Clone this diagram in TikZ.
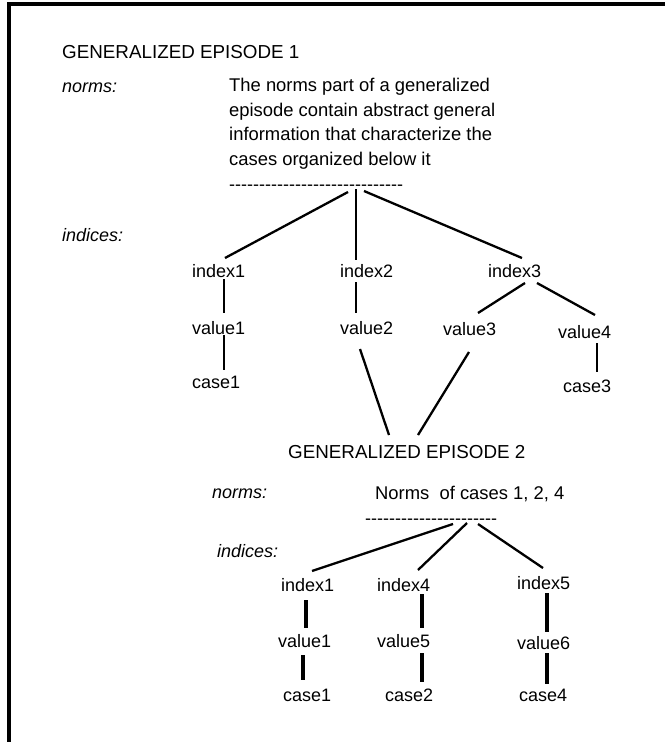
\documentclass[tikz,border=0pt]{standalone}
\usepackage{fontspec}
\newfontfamily\arial{Liberation Sans}
\begin{document}
\begin{tikzpicture}[x=1pt,y=-1pt,
  lbl/.style={font=\arial\fontsize{18}{24.7}\selectfont, inner sep=0pt, anchor=base west},
  prose/.style={lbl, font=\arial\fontsize{18.4}{24.7}\selectfont},
  head/.style={lbl, font=\arial\fontsize{18.8}{24.7}\selectfont},
  tag/.style={lbl, font=\arial\itshape\fontsize{18}{24.7}\selectfont},
  link/.style={line width=2.3pt},
  bar/.style={line width=3.1pt},
]
\useasboundingbox (0,0) rectangle (669,742);
% page frame (top and left edges)
\draw[line width=3.5pt] (9,742) -- (9,4) -- (665,4);

% ---------- generalized episode 1 ----------
\node[head] (ge1) at (62,58.5) {GENERALIZED EPISODE 1};
\node[tag] (nl1) at (62,92) {norms:};
\node[prose, anchor=north west, align=left] (nt1) at (229,78)
  {The norms part of a generalized\\episode contain abstract general\\information that characterize the\\cases organized below it};
\node[lbl] (dl1) at (229,190) {-----------------------------};
\node[tag] (il1) at (62,241) {indices:};

\node[lbl] (i1) at (192,277) {index1};
\node[lbl] (i2) at (340,277) {index2};
\node[lbl] (i3) at (488,277) {index3};
\node[lbl] (v1) at (192,334) {value1};
\node[lbl] (v2) at (340,334) {value2};
\node[lbl] (v3) at (443,335) {value3};
\node[lbl] (v4) at (558,338) {value4};
\node[lbl] (c1) at (192,388) {case1};
\node[lbl] (c3) at (563,392) {case3};

\draw[link] ([shift={(119,2)}]dl1.base west) -- ([shift={(33,-19)}]i1.base west);
\draw[link] ([shift={(127,-1)}]dl1.base west) -- ([shift={(16,-17)}]i2.base west);
\draw[link] ([shift={(135,1)}]dl1.base west) -- ([shift={(34,-19)}]i3.base west);
\draw[link] ([shift={(32,2)}]i1.base west) -- ([shift={(32,-21)}]v1.base west);
\draw[link] ([shift={(32,1)}]v1.base west) -- ([shift={(32,-18)}]c1.base west);
\draw[link] ([shift={(16,5)}]i2.base west) -- ([shift={(16,-21)}]v2.base west);
\draw[link] ([shift={(37,6)}]i3.base west) -- ([shift={(35,-22)}]v3.base west);
\draw[link] ([shift={(49,6)}]i3.base west) -- ([shift={(37,-23)}]v4.base west);
\draw[link] ([shift={(39,5)}]v4.base west) -- ([shift={(34,-20)}]c3.base west);

% ---------- generalized episode 2 ----------
\node[head] (ge2) at (288,458.5) {GENERALIZED EPISODE 2};
\node[tag] (nl2) at (212,498) {norms:};
\node[prose] (nt2) at (375,499) {Norms\ \ of cases 1, 2, 4};
\node[lbl] (dl2) at (365,524) {----------------------};
\node[tag] (il2) at (217,557) {indices:};

\draw[link] ([shift={(20,15)}]v2.base west) -- ([shift={(101,-23.5)}]ge2.base west);
\draw[link] ([shift={(26,17)}]v3.base west) -- ([shift={(130,-23.5)}]ge2.base west);

\node[lbl] (j1) at (281,591.5) {index1};
\node[lbl] (j4) at (377,591.5) {index4};
\node[lbl] (j5) at (517,589.5) {index5};
\node[lbl] (w1) at (278,647.5) {value1};
\node[lbl] (w5) at (377,647.5) {value5};
\node[lbl] (w6) at (517,649.5) {value6};
\node[lbl] (k1) at (283,701) {case1};
\node[lbl] (k2) at (385,701) {case2};
\node[lbl] (k4) at (519,701) {case4};

\draw[link] ([shift={(88,0)}]dl2.base west) -- ([shift={(31,-20.5)}]j1.base west);
\draw[link] ([shift={(102,-1)}]dl2.base west) -- ([shift={(41,-21.5)}]j4.base west);
\draw[link] ([shift={(113,0)}]dl2.base west) -- ([shift={(26,-21.5)}]j5.base west);
\draw[bar] ([shift={(25,8.5)}]j1.base west) -- ([shift={(28,-19.5)}]w1.base west);
\draw[bar] ([shift={(25,7.5)}]w1.base west) -- ([shift={(20,-21)}]k1.base west);
\draw[bar] ([shift={(45,2.5)}]j4.base west) -- ([shift={(45,-19.5)}]w5.base west);
\draw[bar] ([shift={(45,5.5)}]w5.base west) -- ([shift={(37,-19)}]k2.base west);
\draw[bar] ([shift={(30,3.5)}]j5.base west) -- ([shift={(30,-17.5)}]w6.base west);
\draw[bar] ([shift={(30,3.5)}]w6.base west) -- ([shift={(28,-17)}]k4.base west);
\end{tikzpicture}
\end{document}
